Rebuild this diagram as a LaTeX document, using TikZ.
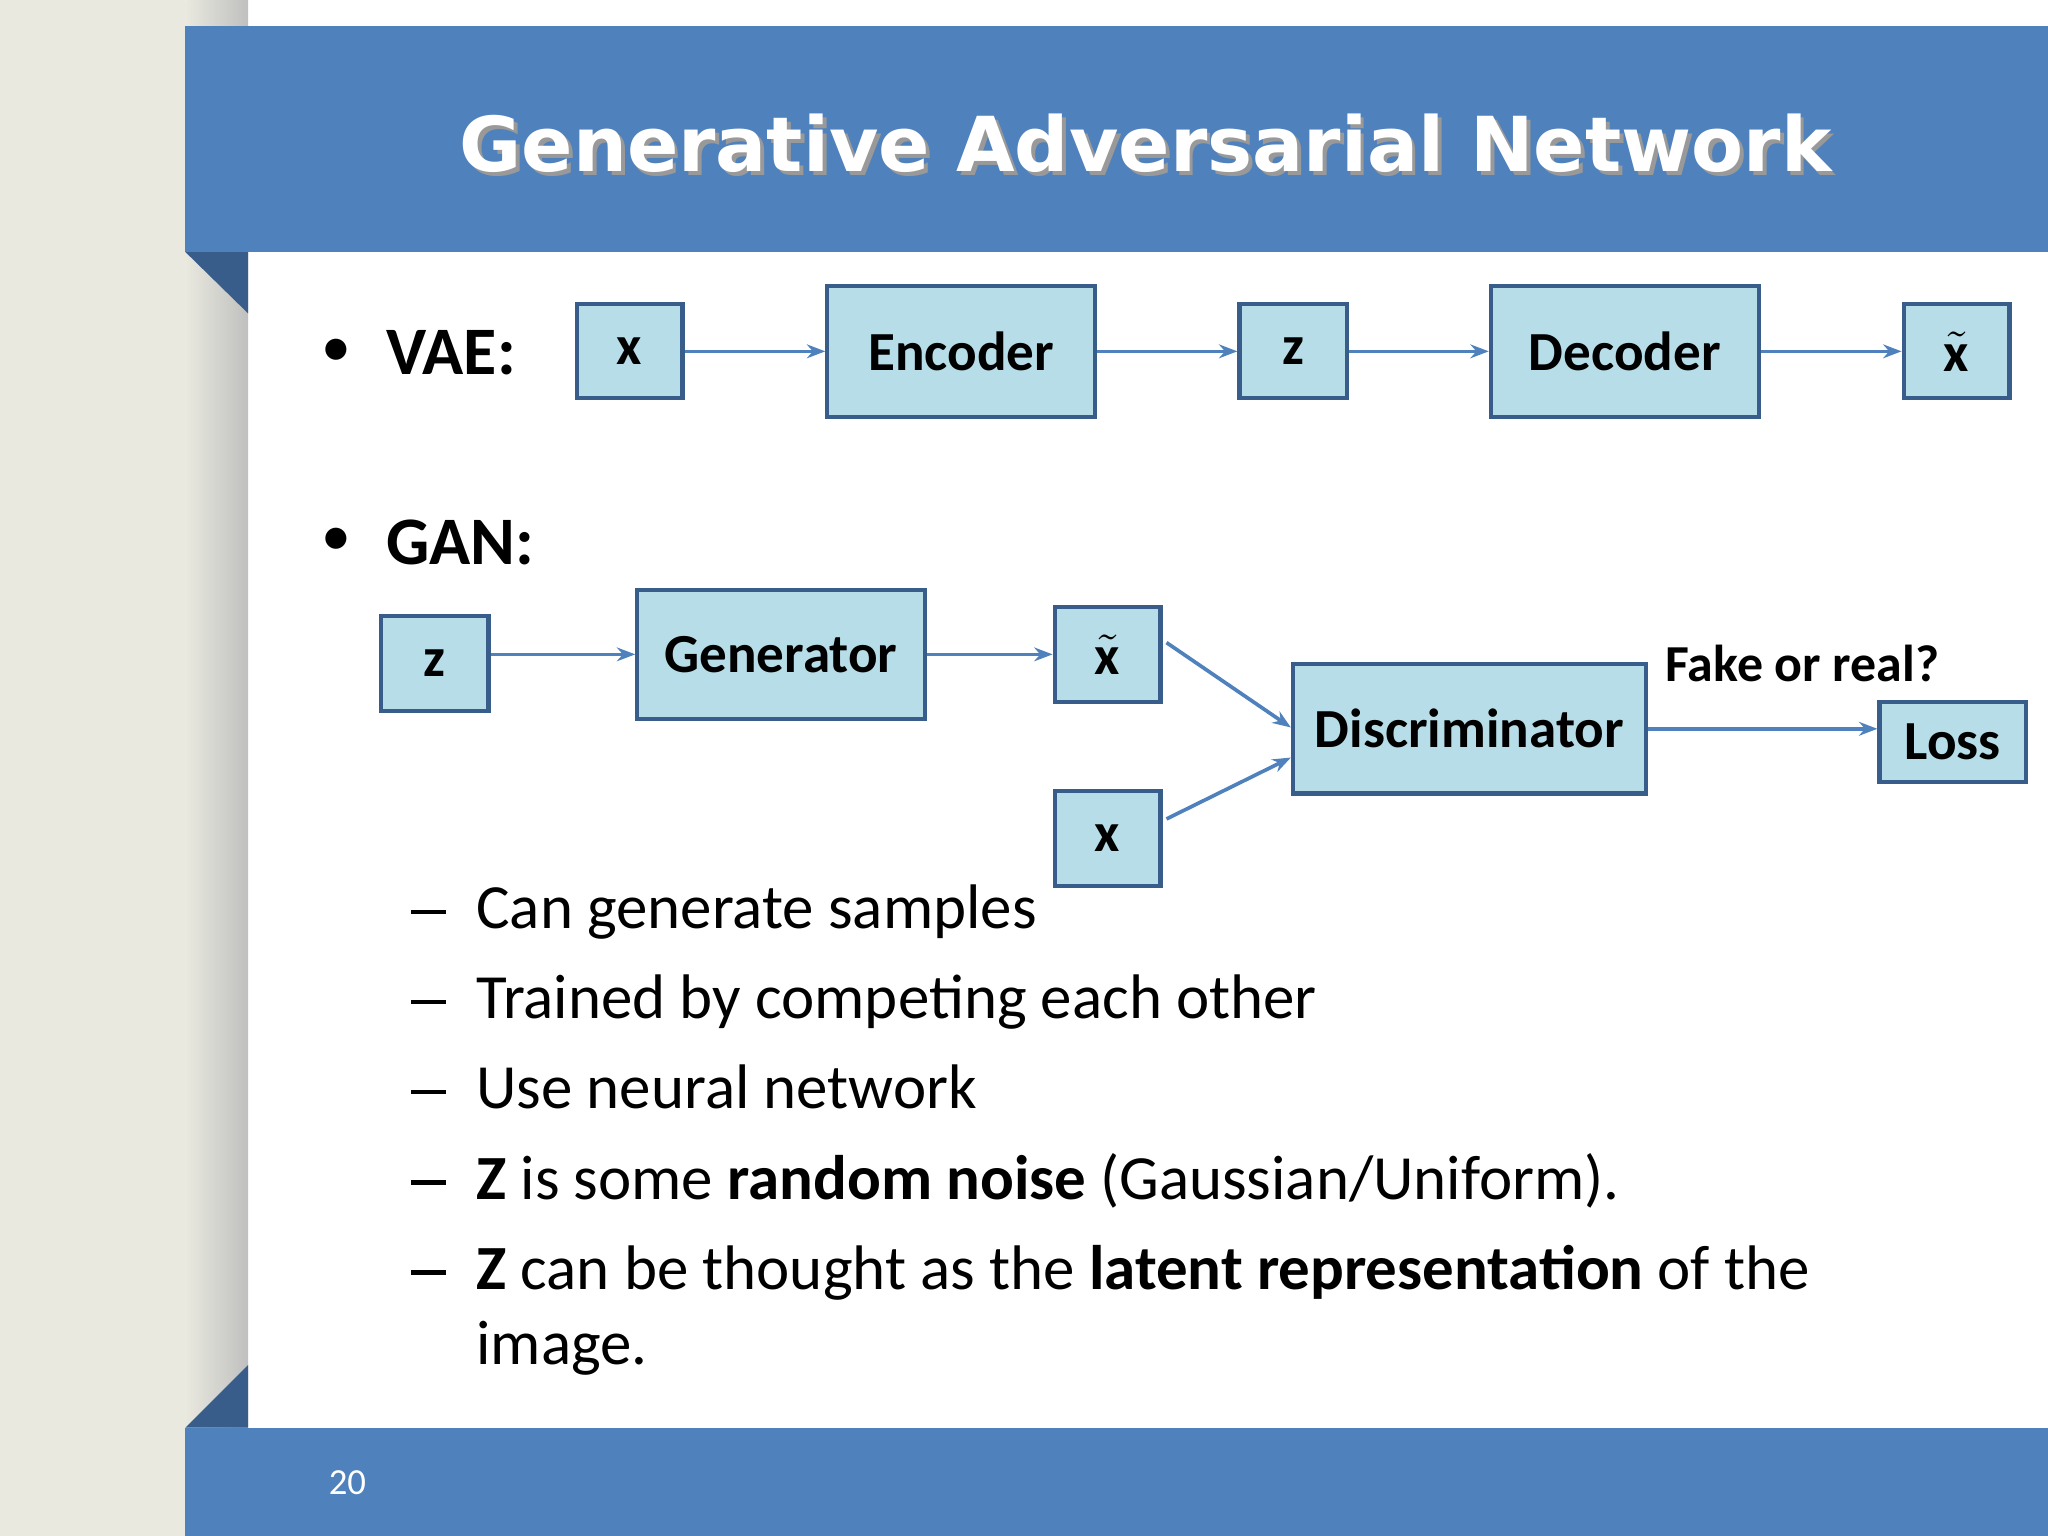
\documentclass[tikz,border=0pt]{standalone}
\usepackage{fontspec}
\setmainfont{Carlito}
\newfontfamily\titlefont{DejaVu Sans}
\usetikzlibrary{arrows.meta}
\definecolor{slideblue}{HTML}{4F81BD}
\definecolor{darkblue}{HTML}{385D8A}
\definecolor{boxfill}{HTML}{B7DEE8}
\definecolor{paper}{HTML}{E9E9DF}
\begin{document}
\begin{tikzpicture}[x=0.01cm,y=-0.01cm,
  Box/.style={draw=darkblue,line width=0.9pt,fill=boxfill,font=\fontsize{12}{14}\selectfont\bfseries,inner sep=0pt},
  Arr/.style={draw=slideblue,line width=0.8pt,-{Stealth[length=4pt,width=3pt]}},
  Item/.style={anchor=base west,font=\fontsize{13.7}{16}\selectfont,inner sep=0pt}]
  \useasboundingbox (0,0) rectangle (1568,1176);
  % background
  \fill[paper] (0,0) rectangle (142,1176);
  \shade[left color=paper,right color=black!25] (142,0) rectangle (190,1176);
  \fill[slideblue] (142,20) rectangle (1568,193);
  \fill[darkblue] (142,193) -- (190,193) -- (190,240) -- cycle;
  \fill[slideblue] (142,1093) rectangle (1568,1176);
  \fill[darkblue] (142,1093) -- (190,1045) -- (190,1093) -- cycle;
  \node[text=black!40] at (880,113) {\titlefont\fontsize{16.5}{20}\selectfont\bfseries Generative Adversarial Network};
  \node[text=white] (title) at (877,110) {\titlefont\fontsize{16.5}{20}\selectfont\bfseries Generative Adversarial Network};
  \node[text=white,font=\fontsize{8}{10}\selectfont] (page) at (266,1135) {20};

  % VAE row
  \node[anchor=west,font=\fontsize{13}{16}\selectfont] at (234,270) {\textbullet};
  \node[anchor=west,font=\fontsize{14.8}{18}\selectfont\bfseries,inner sep=0pt] (vae) at (295,270) {VAE:};
  \node[Box,minimum width=0.81cm,minimum height=0.72cm] (vx)  at (482,269) {x};
  \node[Box,minimum width=2.05cm,minimum height=1.0cm] (enc) at (736,269) {Encoder};
  \node[Box,minimum width=0.82cm,minimum height=0.72cm] (vz)  at (990,269) {z};
  \node[Box,minimum width=2.05cm,minimum height=1.0cm] (dec) at (1244,269) {Decoder};
  \node[Box,minimum width=0.81cm,minimum height=0.72cm] (vxt) at (1498,269) {$\tilde{\mathbf{x}}$};
  \draw[Arr] (vx) -- (enc);
  \draw[Arr] (enc) -- (vz);
  \draw[Arr] (vz) -- (dec);
  \draw[Arr] (dec) -- (vxt);

  % GAN row
  \node[anchor=west,font=\fontsize{13}{16}\selectfont] at (234,415) {\textbullet};
  \node[anchor=west,font=\fontsize{14.8}{18}\selectfont\bfseries,inner sep=0pt] (gan) at (295,415) {GAN:};
  \node[Box,minimum width=0.82cm,minimum height=0.73cm] (gz)   at (333,508) {z};
  \node[Box,minimum width=2.2cm,minimum height=0.99cm] (gen) at (598,501) {Generator};
  \node[Box,minimum width=0.81cm,minimum height=0.73cm] (gxt)  at (848,501) {$\tilde{\mathbf{x}}$};
  \node[Box,minimum width=0.81cm,minimum height=0.73cm] (gx)   at (848,642) {x};
  \node[Box,minimum width=2.7cm,minimum height=0.99cm] (dis) at (1125,558) {Discriminator};
  \node[Box,minimum width=1.12cm,minimum height=0.61cm] (loss) at (1495,568) {Loss};
  \node[font=\fontsize{11.3}{14}\selectfont\bfseries] (fake) at (1380,508) {Fake or real?};
  \draw[Arr] (gz.east |- 0,501) -- (gen.west |- 0,501);
  \draw[Arr] (gen) -- (gxt);
  \draw[Arr] (gxt.east) ++(3,-9) -- (dis.west |- 0,557);
  \draw[Arr] (gx.east) ++(3,-15) -- (dis.west |- 0,580);
  \draw[Arr] (dis.east |- 0,558) -- (loss.west |- 0,558);

  % sub items
  \foreach \yy/\txt in {711/Can generate samples,
      780/Trained by competing each other,
      849/Use neural network,
      918/{\textbf{Z} is some \textbf{random noise} (Gaussian/Uniform).},
      987/{\textbf{Z} can be thought as the \textbf{latent representation} of the}} {
    \node[Item] at (314,\yy) {\rule[0.23em]{0.55em}{0.07em}};
    \node[Item] at (364,\yy) {\txt};
  }
  \node[Item] at (364,1045) {image.};
\end{tikzpicture}
\end{document}
